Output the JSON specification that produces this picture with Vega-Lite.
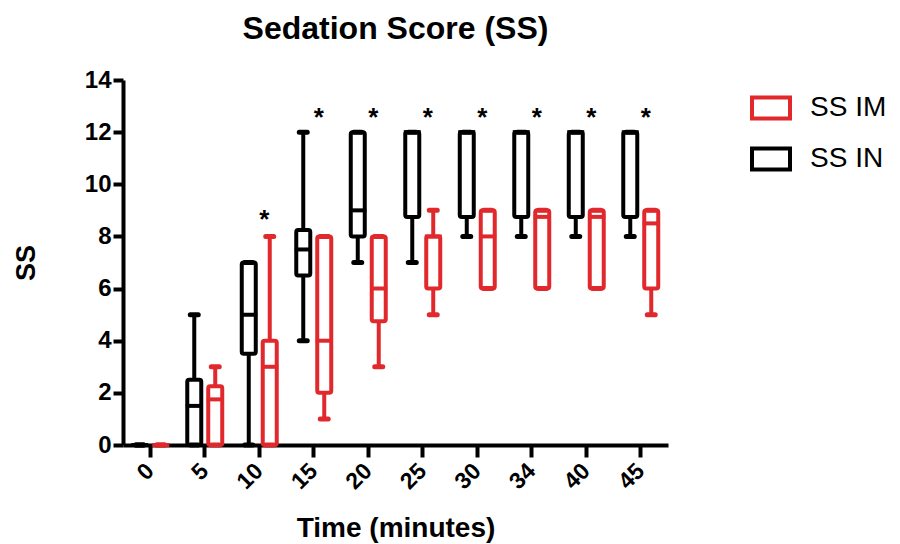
{
  "$schema": "https://vega.github.io/schema/vega-lite/v6.json",
  "width": 545,
  "height": 365,
  "autosize": {"type": "none"},
  "padding": {"left": 123, "top": 80, "right": 232, "bottom": 99},
  "background": "white",
  "title": {"text": "Sedation Score (SS)", "fontSize": 32, "font": "Liberation Sans", "fontWeight": "bold", "color": "black", "offset": 22, "anchor": "middle"},
  "config": {"view": {"stroke": null}},
  "datasets": {
    "boxes": [
      {"time": 0, "group": "SS IN", "min": 0, "q1": 0, "median": 0, "q3": 0, "max": 0},
      {"time": 5, "group": "SS IN", "min": 0, "q1": 0, "median": 1.5, "q3": 2.5, "max": 5},
      {"time": 10, "group": "SS IN", "min": 0, "q1": 3.5, "median": 5, "q3": 7, "max": 7},
      {"time": 15, "group": "SS IN", "min": 4, "q1": 6.5, "median": 7.5, "q3": 8.25, "max": 12},
      {"time": 20, "group": "SS IN", "min": 7, "q1": 8, "median": 9, "q3": 12, "max": 12},
      {"time": 25, "group": "SS IN", "min": 7, "q1": 8.75, "median": 12, "q3": 12, "max": 12},
      {"time": 30, "group": "SS IN", "min": 8, "q1": 8.75, "median": 12, "q3": 12, "max": 12},
      {"time": 34, "group": "SS IN", "min": 8, "q1": 8.75, "median": 12, "q3": 12, "max": 12},
      {"time": 40, "group": "SS IN", "min": 8, "q1": 8.75, "median": 12, "q3": 12, "max": 12},
      {"time": 45, "group": "SS IN", "min": 8, "q1": 8.75, "median": 12, "q3": 12, "max": 12},
      {"time": 0, "group": "SS IM", "min": 0, "q1": 0, "median": 0, "q3": 0, "max": 0},
      {"time": 5, "group": "SS IM", "min": 0, "q1": 0, "median": 1.75, "q3": 2.25, "max": 3},
      {"time": 10, "group": "SS IM", "min": 0, "q1": 0, "median": 3, "q3": 4, "max": 8},
      {"time": 15, "group": "SS IM", "min": 1, "q1": 2, "median": 4, "q3": 8, "max": 8},
      {"time": 20, "group": "SS IM", "min": 3, "q1": 4.75, "median": 6, "q3": 8, "max": 8},
      {"time": 25, "group": "SS IM", "min": 5, "q1": 6, "median": 8, "q3": 8, "max": 9},
      {"time": 30, "group": "SS IM", "min": 6, "q1": 6, "median": 8, "q3": 9, "max": 9},
      {"time": 34, "group": "SS IM", "min": 6, "q1": 6, "median": 8.75, "q3": 9, "max": 9},
      {"time": 40, "group": "SS IM", "min": 6, "q1": 6, "median": 8.75, "q3": 9, "max": 9},
      {"time": 45, "group": "SS IM", "min": 5, "q1": 6, "median": 8.5, "q3": 9, "max": 9}
    ],
    "stars": [
      {"time": 10, "pos": 8.8, "mark": "*"},
      {"time": 15, "pos": 12.7, "mark": "*"},
      {"time": 20, "pos": 12.7, "mark": "*"},
      {"time": 25, "pos": 12.7, "mark": "*"},
      {"time": 30, "pos": 12.7, "mark": "*"},
      {"time": 34, "pos": 12.7, "mark": "*"},
      {"time": 40, "pos": 12.7, "mark": "*"},
      {"time": 45, "pos": 12.7, "mark": "*"}
    ]
  },
  "encoding": {
    "x": {
      "field": "time", "type": "ordinal", "sort": "ascending",
      "scale": {"paddingInner": 0.23, "paddingOuter": 0.115},
      "axis": {
        "title": "Time (minutes)", "titleFont": "Liberation Sans", "titleFontSize": 28, "titleFontWeight": "bold", "titleColor": "black", "titlePadding": 21,
        "labelFont": "Liberation Sans", "labelFontSize": 23, "labelFontWeight": "bold", "labelColor": "black", "labelAngle": -45, "labelAlign": "right", "labelBaseline": "middle", "labelPadding": 10,
        "domainColor": "black", "domainWidth": 4, "tickColor": "black", "tickWidth": 4, "tickSize": 12, "grid": false
      }
    },
    "stroke": {"field": "group", "type": "nominal",
      "scale": {"domain": ["SS IM", "SS IN"], "range": ["#e0282d", "#000000"]},
      "legend": {
        "title": null, "orient": "none", "legendX": 627, "legendY": 7, "padding": 0,
        "symbolType": "M-1,-0.55H1V0.55H-1Z", "symbolSize": 1444, "symbolStrokeWidth": 4, "symbolFillColor": "white", "symbolOpacity": 1,
        "labelFont": "Liberation Sans", "labelFontSize": 28, "labelColor": "black", "labelOffset": 18, "rowPadding": 11
      }}
  },
  "layer": [
    {
      "data": {"name": "boxes"},
      "mark": {"type": "rule", "strokeWidth": 4},
      "encoding": {
        "xOffset": {"field": "group", "type": "nominal", "scale": {"domain": ["SS IN", "SS IM"], "paddingInner": 0, "paddingOuter": 0}},
        "y": {"field": "min", "type": "quantitative", "scale": {"domain": [0, 14], "nice": false},
          "axis": {
            "title": "SS", "titleFont": "Liberation Sans", "titleFontSize": 27, "titleFontWeight": "bold", "titleColor": "black", "titlePadding": 44,
            "values": [0, 2, 4, 6, 8, 10, 12, 14],
            "labelFont": "Liberation Sans", "labelFontSize": 24, "labelFontWeight": "bold", "labelColor": "black", "labelPadding": 2,
            "domainColor": "black", "domainWidth": 4, "tickColor": "black", "tickWidth": 4, "tickSize": 10, "grid": false
          }},
        "y2": {"field": "q1"}
      }
    },
    {
      "data": {"name": "boxes"},
      "mark": {"type": "rule", "strokeWidth": 4},
      "encoding": {
        "xOffset": {"field": "group", "type": "nominal"},
        "y": {"field": "q3", "type": "quantitative"},
        "y2": {"field": "max"}
      }
    },
    {
      "data": {"name": "boxes"},
      "mark": {"type": "bar", "filled": false, "fill": "white", "strokeWidth": 4, "width": 14, "cornerRadius": 2, "opacity": 1},
      "encoding": {
        "xOffset": {"field": "group", "type": "nominal"},
        "y": {"field": "q1", "type": "quantitative"},
        "y2": {"field": "q3"}
      }
    },
    {
      "data": {"name": "boxes"},
      "mark": {"type": "tick", "filled": false, "thickness": 1, "strokeWidth": 3, "size": 14, "opacity": 1},
      "encoding": {
        "xOffset": {"field": "group", "type": "nominal"},
        "y": {"field": "median", "type": "quantitative"}
      }
    },
    {
      "data": {"name": "boxes"},
      "mark": {"type": "tick", "filled": false, "thickness": 1, "strokeWidth": 4, "size": 9, "cornerRadius": 1, "opacity": 1},
      "encoding": {
        "xOffset": {"field": "group", "type": "nominal"},
        "y": {"field": "min", "type": "quantitative"}
      }
    },
    {
      "data": {"name": "boxes"},
      "mark": {"type": "tick", "filled": false, "thickness": 1, "strokeWidth": 4, "size": 9, "cornerRadius": 1, "opacity": 1},
      "encoding": {
        "xOffset": {"field": "group", "type": "nominal"},
        "y": {"field": "max", "type": "quantitative"}
      }
    },
    {
      "data": {"name": "stars"},
      "mark": {"type": "text", "font": "Liberation Sans", "fontSize": 26, "fontWeight": "bold", "color": "black", "baseline": "middle", "dx": 5, "dy": 4},
      "encoding": {
        "y": {"field": "pos", "type": "quantitative"},
        "text": {"field": "mark"},
        "stroke": null
      }
    }
  ]
}
